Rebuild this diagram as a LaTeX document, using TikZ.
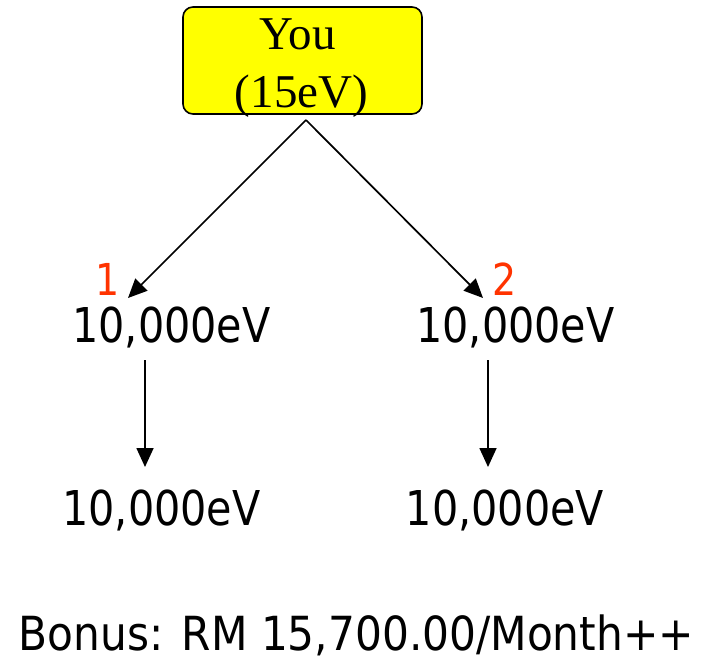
\documentclass[tikz,border=0pt]{standalone}
\usepackage{fontspec}
\setmainfont{Liberation Serif}
\newfontfamily\tah{DejaVu Sans}[FakeStretch=0.86]
\newfontfamily\tahw{DejaVu Sans}[FakeStretch=0.9]
\usetikzlibrary{arrows.meta}
\definecolor{boxyellow}{RGB}{255,255,0}
\definecolor{numred}{RGB}{255,51,0}
\tikzset{
  boxstyle/.style={draw=black, line width=1.6pt, fill=boxyellow, rounded corners=10pt, inner sep=0pt},
  serif/.style={inner sep=0pt, anchor=base, font=\fontsize{47}{56}\selectfont},
  val/.style={inner sep=0pt, anchor=base, font=\tah\fontsize{48}{56}\selectfont},
  num/.style={inner sep=0pt, anchor=base, text=numred, font=\tah\fontsize{44}{52}\selectfont},
  conn/.style={line width=1.7pt, -{Triangle[length=19pt,width=17pt]}},
}
\begin{document}
\begin{tikzpicture}[x=1pt,y=-1pt]
\useasboundingbox (0,0) rectangle (708,660);
% box
\node[boxstyle, minimum width=239pt, minimum height=107pt] (you) at (302.5,60.5) {};
\node[serif] (youA) at (297.5,50) {You};
\node[serif] (youB) at (301.5,108) {(15eV)};
% values
\node[val] (l1) at (171.5,342) {10,000eV};
\node[val] (r1) at (515.5,342) {10,000eV};
\node[val] (l2) at (161.5,525) {10,000eV};
\node[val] (r2) at (505,525) {10,000eV};
\node[num] (n1) at (107.5,295) {1};
\node[num] (n2) at (504.5,295) {2};
\node[val, font=\tahw\fontsize{47}{56}\selectfont] (bonus) at (356.5,650) {Bonus: RM 15,700.00/Month++};
% connector points
\coordinate (apex) at (306,120);
\coordinate (l1top) at (128,298);
\coordinate (r1top) at (483,298);
\coordinate (l1bot) at (145,360);
\coordinate (l2top) at (145,467);
\coordinate (r1bot) at (488,360);
\coordinate (r2top) at (488,467);
\draw[conn] (apex) -- (l1top);
\draw[conn] (apex) -- (r1top);
\draw[conn] (l1bot) -- (l2top);
\draw[conn] (r1bot) -- (r2top);
\end{tikzpicture}
\end{document}
